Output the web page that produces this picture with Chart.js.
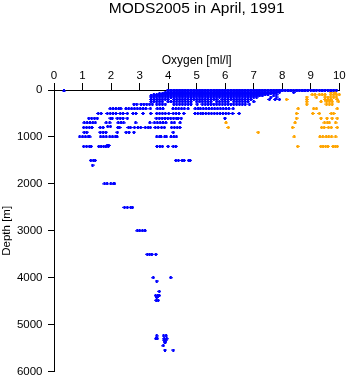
<!DOCTYPE html>
<html>
<head>
<meta charset="utf-8">
<title>MODS2005 in April, 1991</title>
<script src="https://cdn.jsdelivr.net/npm/chart.js@4.4.1/dist/chart.umd.min.js"></script>
<style>
html, body { margin: 0; padding: 0; background: #fff; }
</style>
</head>
<body>
<canvas id="oxyChart" width="348" height="384"></canvas>
<script>
// Depth levels [m] and the oxygen values [ml/l] seen at each level

// Blue casts
const blueDepths = [0, 20, 50, 75, 100, 125, 150, 200, 250, 300, 400, 500, 600, 700, 780, 800, 900, 1000, 1180, 1200,
	1500, 1600, 2000, 2500, 3000, 3500, 4000, 4070, 4290, 4380, 4420, 4480, 5240, 5300, 5330, 5370, 5450, 5540];
const blueOxygen = [
	[4.0,4.1,4.2,4.3,4.4,4.5,4.6,4.7,4.8,4.9,5.0,5.1,5.2,5.3,5.4,5.5,5.6,5.7,5.8,5.9,6.0,6.1,6.2,6.3,6.4,6.5,6.6,6.7,6.8,6.9,
	 7.0,7.1,7.2,7.3,7.4,7.5,7.6,7.7,7.8,7.9,8.0,8.1,8.2,8.3,8.4,8.5,8.6,8.7,8.8,8.9,9.0,9.1,9.2,9.3,9.4,9.5,9.6,9.7,9.8,9.9],
	[0.35,4.0,4.1,4.2,4.3,4.4,4.5,4.6,4.7,4.8,4.9,5.0,5.1,5.2,5.3,5.4,5.5,5.6,5.7,5.8,5.9,6.0,6.1,6.2,6.3,6.4,6.5,6.6,6.7,6.8,6.9,
	 7.0,7.1,7.2,7.3,7.4,7.5,7.6,7.7,7.8,7.9,8.0,8.2,8.3,8.5,8.7,8.8,9.1,9.4,9.7],
	[3.9,4.0,4.1,4.2,4.3,4.4,4.5,4.6,4.7,4.8,4.9,5.0,5.1,5.2,5.3,5.4,5.5,5.6,5.7,5.8,5.9,6.0,6.1,6.2,6.3,6.4,6.5,6.6,6.7,6.8,6.9,
	 7.0,7.1,7.2,7.3,7.4,7.5,7.6,7.7,7.8,7.9,8.4],
	[3.7,3.8,3.9,4.0,4.1,4.2,4.3,4.4,4.5,4.6,4.7,4.8,4.9,5.0,5.1,5.2,5.3,5.4,5.5,5.6,5.7,5.8,5.9,6.0,6.1,6.2,6.3,6.4,6.5,6.6,6.7,6.8,6.9,
	 7.0,7.1,7.2,7.3,7.4,7.5,7.6,7.7],
	[3.5,3.6,3.7,3.8,3.9,4.0,4.1,4.2,4.3,4.4,4.5,4.6,4.7,4.8,4.9,5.0,5.1,5.2,5.3,5.4,5.5,5.6,5.7,5.8,5.9,6.0,6.1,6.2,6.3,6.4,6.5,6.6,6.7,6.8,6.9,
	 7.0,7.1,7.2,7.3,7.4,7.5,7.8],
	[3.4,3.5,3.6,3.7,3.8,3.9,4.0,4.1,4.2,4.3,4.4,4.5,4.6,4.7,4.8,4.9,5.0,5.1,5.2,5.3,5.4,5.5,5.6,5.7,5.8,5.9,6.0,6.1,6.2,6.3,6.4,6.5,6.6,6.7,6.8,6.9,
	 7.0,7.1,7.2,7.3,7.7],
	[3.4,3.5,3.6,3.7,3.8,3.9,4.0,4.1,4.2,4.3,4.4,4.5,4.6,4.7,4.8,4.9,5.0,5.1,5.2,5.3,5.4,5.5,5.6,5.7,5.8,5.9,6.0,6.1,6.2,6.3,6.4,6.5,6.6,6.7,6.8,6.9,
	 7.0,7.1,7.6,7.8],
	[3.4,3.5,3.6,3.7,3.8,3.9,4.0,4.2,4.3,4.4,4.5,4.6,4.7,4.8,4.9,5.0,5.1,5.2,5.3,5.4,5.5,5.6,5.7,5.9,6.0,6.1,6.2,6.3,6.4,6.5,6.6,6.7,6.8,6.9,
	 7.55,7.75,7.9],
	[3.4,3.5,3.6,3.7,3.8,4.0,4.1,4.2,4.3,4.4,4.5,4.6,4.7,4.8,5.0,5.1,5.2,5.3,5.4,5.5,5.7,5.8,5.9,6.0,6.1,6.3,6.4,6.5,6.6,6.7,6.8,7.0],
	[2.8,2.9,3.05,3.15,3.25,3.35,3.45,3.6,3.7,3.8,3.9,4.2,4.3,4.4,4.5,4.6,4.7,4.8,5.02,5.2,5.3,5.4,5.5,5.6,5.7,5.8,5.9,
	 6.0,6.1,6.2,6.3,6.4,6.5,6.6,6.7,6.85],
	[1.97,2.07,2.17,2.27,2.34,2.52,2.62,2.72,2.82,2.92,3.02,3.12,3.22,3.38,3.62,3.72,3.82,4.17,4.27,4.37,4.47,4.57,4.7,
	 4.95,5.05,5.13,5.23,5.33,5.43,5.53,5.63,5.73,5.83,5.93,6.03,6.13,6.28],
	[1.55,1.65,1.87,1.97,2.07,2.17,2.32,2.42,2.57,2.77,2.87,3.12,3.39,3.6,3.7,3.8,3.9,4.02,4.18,4.28,4.38,4.55,
	 4.94,5.04,5.14,5.22,5.32,5.42,5.52,5.62,5.72,5.82,5.92,6.02,6.12,6.26,6.49],
	[1.22,1.32,1.42,1.52,1.98,2.04,2.22,2.32,2.42,2.57,3.59,3.69,3.79,3.89,3.99,4.09,4.19,4.29,4.35,4.46,5.99],
	[1.06,1.16,1.26,1.36,1.45,1.83,1.95,2.25,2.35,2.44,2.86,3.36,3.52,3.62,3.72,3.82,3.92,4.12,4.22,4.42],
	[1.88,1.98],
	[1.04,1.14,1.24,1.33,1.62,1.72,2.24,2.3,2.61,2.68,2.82,2.94,3.04,3.2,3.3,3.38,3.55,3.65,3.77,3.87,4.12,4.22,4.32,4.41],
	[1.06,1.15,1.62,1.72,1.82,2.22,2.53,2.63,2.8,4.18],
	[0.9,1.0,1.1,1.2,1.25,1.63,1.73,1.83,1.95,2.05,2.15,2.21,3.6,3.7,3.75,3.88,3.94,4.1,4.2,4.29],
	[1.86,1.92],
	[1.04,1.14,1.24,1.3,1.57,1.65,1.74,1.82,1.9,3.61,3.71,3.8,4.0,4.18,4.27],
	[1.29,1.38,1.44,4.27,4.36,4.49,4.56,4.72,4.77],
	[1.35],
	[1.77,1.86,1.99,2.09,2.12],
	[2.47,2.57,2.69,2.75],
	[2.92,3.0,3.1,3.19],
	[3.27,3.35,3.43,3.57],
	[3.48,4.09],
	[3.6],
	[3.69],
	[3.56,3.64,3.69],
	[3.6],
	[3.58,3.65],
	[3.6,3.84,3.93],
	[3.57,3.62,3.86,3.95],
	[3.86,3.92],
	[3.88,3.9],
	[3.83],
	[3.89,4.18]
];

// Orange casts
const orangeDepths = [50, 100, 150, 200, 250, 300, 400, 500, 600, 700, 800, 900, 1000, 1200];
const orangeOxygen = [
	[9.7,9.85],
	[9.05,9.15,9.3,9.4,9.5,9.7,9.8,9.9,10.0],
	[8.86,9.2,9.5,9.6,9.7,9.8,9.9],
	[8.15,8.86,9.5,9.6,9.7,9.93],
	[8.86,9.36,9.55,9.65,9.75,9.97],
	[8.86,9.55,9.65,9.75],
	[8.56,9.1,9.2,9.93],
	[8.5,9.07,9.3,9.72,9.8],
	[8.5,9.36,9.57,9.75,9.93],
	[6.03,8.45,9.48,9.58,9.65,9.87],
	[6.11,8.36,9.38,9.47,9.62,9.72,9.93],
	[7.16],
	[8.42,9.32,9.42,9.54,9.63,9.73,9.87],
	[8.54,9.35,9.43,9.52,9.6,9.78,9.86,9.93]
];

// Axis ranges
const oxygenRange = [0, 10];
const depthRange = [0, 6000];

// Turn depth rows into scatter points
function toPoints(depths, oxygen) {
	const pts = [];
	depths.forEach((d, i) => {
		oxygen[i].forEach(o => pts.push({ x: o, y: d }));
	});
	return pts;
}

// Small plus-like marker, like the original plot symbol
function marker(color) {
	const c = document.createElement('canvas');
	c.width = 4;
	c.height = 3;
	const g = c.getContext('2d');
	g.fillStyle = color;
	g.fillRect(0, 1, 4, 1);
	g.fillRect(1, 0, 2, 3);
	return c;
}

Chart.defaults.font.family = "'Liberation Sans', Arial, sans-serif";
Chart.defaults.color = '#000';

new Chart(document.getElementById('oxyChart'), {
	type: 'scatter',
	data: {
		datasets: [
			{
				label: 'blue',
				data: toPoints(blueDepths, blueOxygen),
				pointStyle: marker('#0000ff'),
				backgroundColor: '#0000ff',
				clip: false
			},
			{
				label: 'orange',
				data: toPoints(orangeDepths, orangeOxygen),
				pointStyle: marker('#ffa500'),
				backgroundColor: '#ffa500',
				clip: false
			}
		]
	},
	options: {
		responsive: false,
		animation: false,
		events: [],
		layout: { padding: { left: 0, top: 0, right: 8.7, bottom: 9 } },
		plugins: {
			legend: { display: false },
			tooltip: { enabled: false },
			title: {
				display: true,
				text: 'MODS2005 in April, 1991',
				fullSize: false,
				color: '#000',
				font: { size: 15.5, weight: 'normal', lineHeight: 1 },
				padding: { top: 0.5, bottom: 3.5 }
			}
		},
		scales: {
			x: {
				type: 'linear',
				position: 'top',
				min: oxygenRange[0],
				max: oxygenRange[1],
				ticks: { stepSize: 1, color: '#000', font: { size: 11.5 }, padding: 0.5, maxRotation: 0 },
				grid: { drawOnChartArea: false, drawTicks: true, tickLength: 7, color: '#000' },
				border: { display: true, color: '#000', width: 1 },
				title: { display: true, text: 'Oxygen [ml/l]', color: '#000', font: { size: 12 }, padding: { top: 33.5, bottom: 0 } },
				afterFit: s => { s.height = 70.5; }
			},
			y: {
				type: 'linear',
				reverse: true,
				min: depthRange[0],
				max: depthRange[1],
				ticks: { stepSize: 1000, color: '#000', font: { size: 11.5 }, padding: 5.5, callback: v => String(v) },
				grid: { drawOnChartArea: false, drawTicks: true, tickLength: 6, color: '#000' },
				border: { display: true, color: '#000', width: 1 },
				title: { display: true, text: 'Depth [m]', color: '#000', font: { size: 11.5 }, padding: { top: 0, bottom: 0 } },
				afterFit: s => { s.width = 54; }
			}
		}
	}
});
</script>
</body>
</html>
